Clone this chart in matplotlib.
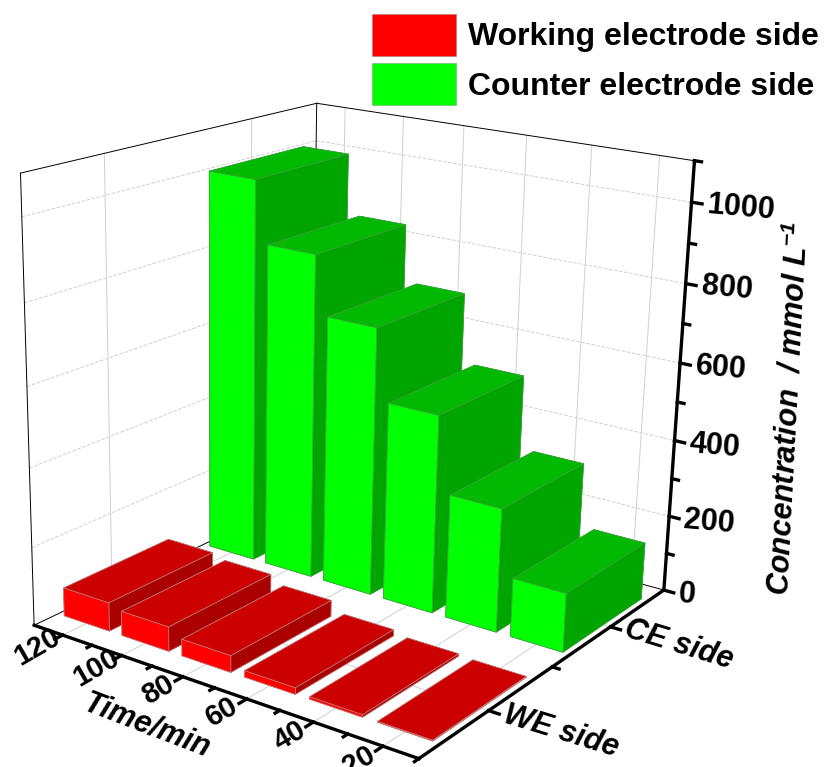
import numpy as np
import matplotlib
matplotlib.use('Agg')
import matplotlib.pyplot as plt
from matplotlib.patches import Patch
from mpl_toolkits.mplot3d import proj3d

plt.rcParams['font.family'] = ['Liberation Sans', 'DejaVu Sans']
plt.rcParams['mathtext.fontset'] = 'custom'
plt.rcParams['mathtext.rm'] = 'Liberation Sans:italic:bold'
plt.rcParams['mathtext.it'] = 'Liberation Sans:italic:bold'
plt.rcParams['mathtext.bf'] = 'Liberation Sans:italic:bold'

W, H = 826, 767

times = [120, 100, 80, 60, 40, 20]
we_conc = [73, 62, 42, 16, 6, 2]
ce_conc = [1000, 842, 692, 510, 317, 150]
side_pos = [1, 2]
side_labels = ['WE side', 'CE side']
conc_ticks = [0, 200, 400, 600, 800, 1000]

time_lim = (130, 10)
side_lim = (0.5, 2.5)
conc_lim = (0, 1100)

fig = plt.figure(figsize=(W / 100, H / 100), dpi=100)
# square axes box, larger than the figure on purpose: it sets the scale of the view
ax = fig.add_axes([-40.6 / W, 1 - 797.2 / H, 784.2 / W, 784.2 / H], projection='3d')
ax.computed_zorder = False
ax.set_axis_off()

# bars, back to front
bar_w = 15.7
bar_d = 0.7
# faces: -z, +z, -y, +y, -x, +x
green = ['#00a500', '#00b900', '#00ff00', '#00a500', '#00a500', '#00a500']
red = ['#aa0000', '#cc0000', '#ff0000', '#aa0000', '#aa0000', '#aa0000']
zo = 10
for side, vals, cols, ec in [(2, ce_conc, green, '#40a040'), (1, we_conc, red, '#c08080')]:
    for t, v in zip(times, vals):
        ax.bar3d(t - bar_w / 2, side - bar_d / 2, 0, bar_w, bar_d, v, color=cols,
                 shade=False, edgecolor=ec, linewidth=0.5, zorder=zo)
        zo += 1

# walls and floor
gcol = '#d0d0d0'
for z in conc_ticks[1:]:
    ax.plot([130, 130], [.5, 2.5], [z, z], color=gcol, lw=0.7, ls='--', zorder=1)
    ax.plot([130, 10], [2.5, 2.5], [z, z], color=gcol, lw=0.7, ls='--', zorder=1)
for t in times:
    ax.plot([t, t], [2.5, 2.5], conc_lim, color=gcol, lw=0.7, zorder=1)
    ax.plot([t, t], [.5, 2.5], [0, 0], color=gcol, lw=0.7, zorder=1)
for s in side_pos:
    ax.plot([130, 130], [s, s], conc_lim, color=gcol, lw=0.7, zorder=1)
    ax.plot([130, 10], [s, s], [0, 0], color=gcol, lw=0.7, zorder=1)

# thin frame
fk = dict(color='black', lw=0.7, zorder=2)
ax.plot([130, 130], [.5, .5], conc_lim, **fk)
ax.plot([130, 130], [2.5, 2.5], conc_lim, **fk)
ax.plot([130, 130], [.5, 2.5], [1100, 1100], **fk)
ax.plot([130, 10], [2.5, 2.5], [1100, 1100], **fk)
ax.plot([130, 130], [.5, 2.5], [0, 0], **fk)
ax.plot([130, 10], [2.5, 2.5], [0, 0], **fk)

# thick axes and ticks
ak = dict(color='black', lw=2.4, zorder=50, solid_capstyle='projecting')
ax.plot([130, 10], [.5, .5], [0, 0], **ak)
ax.plot([10, 10], [.5, 2.5], [0, 0], **ak)
ax.plot([10, 10], [2.5, 2.5], conc_lim, **ak)
for t in times:
    ax.plot([t, t], [.5, .45], [0, 0], **ak)
    ax.plot([t - 10, t - 10], [.5, .47], [0, 0], **ak)
for s in side_pos:
    ax.plot([10, 7], [s, s], [0, 0], **ak)
ax.plot([10, 8], [1.5, 1.5], [0, 0], **ak)
for z in conc_ticks:
    ax.plot([10, 7], [2.5, 2.5], [z, z], **ak)
    ax.plot([10, 8], [2.5, 2.5], [z + 100, z + 100], **ak)

ax.set_xlim(*time_lim, view_margin=0)
ax.set_ylim(*side_lim, view_margin=0)
ax.set_zlim(*conc_lim, view_margin=0)
ax.set_proj_type('persp', focal_length=0.5012)
ax.view_init(18.322, -55.396, -1.263)
ax.set_box_aspect((0.9869, 1, 0.9844), zoom=1)


def label(x, y, z, txt, rotation, **kw):
    # Text3D ignores rotation, so put a 2D text on the projected point
    x2, y2, _ = proj3d.proj_transform(x, y, z, ax.get_proj())
    ax.text2D(x2, y2, txt, transform=ax.transData, rotation=rotation,
              rotation_mode='anchor', fontweight='bold', zorder=60, **kw)


for t in times:
    label(t + .3, .35, 0, str(t), 30, fontsize=21, ha='center', va='center')
for s, lab in zip(side_pos, side_labels):
    label(-9.5, s + .02, 0, lab, -17, fontsize=22, fontstyle='italic', ha='center', va='center')
for z in conc_ticks:
    label(5.5, 2.5, z, str(z), -5, fontsize=22, ha='left', va='center')
label(70, .085, 0, 'Time/min', -21, fontsize=22, fontstyle='italic', ha='center', va='center')
fig.text(790 / W, 1 - 408 / H, r'Concentration  / mmol L$^{-1}$', fontsize=22,
         fontweight='bold', fontstyle='italic', rotation=87, ha='center', va='center')

handles = [Patch(facecolor='#ff0000', edgecolor='#b08080', lw=0.5),
           Patch(facecolor='#00ff00', edgecolor='#80b080', lw=0.5)]
fig.legend(handles, ['Working electrode side', 'Counter electrode side'],
           loc='upper left', bbox_to_anchor=(372 / W, 1 - 14 / H), borderaxespad=0,
           borderpad=0, frameon=False, handlelength=2.63, handleheight=1.65,
           handletextpad=0.38, labelspacing=0.22,
           prop={'family': 'Liberation Sans', 'weight': 'bold', 'size': 23})

fig.savefig('out.png', dpi=100)
